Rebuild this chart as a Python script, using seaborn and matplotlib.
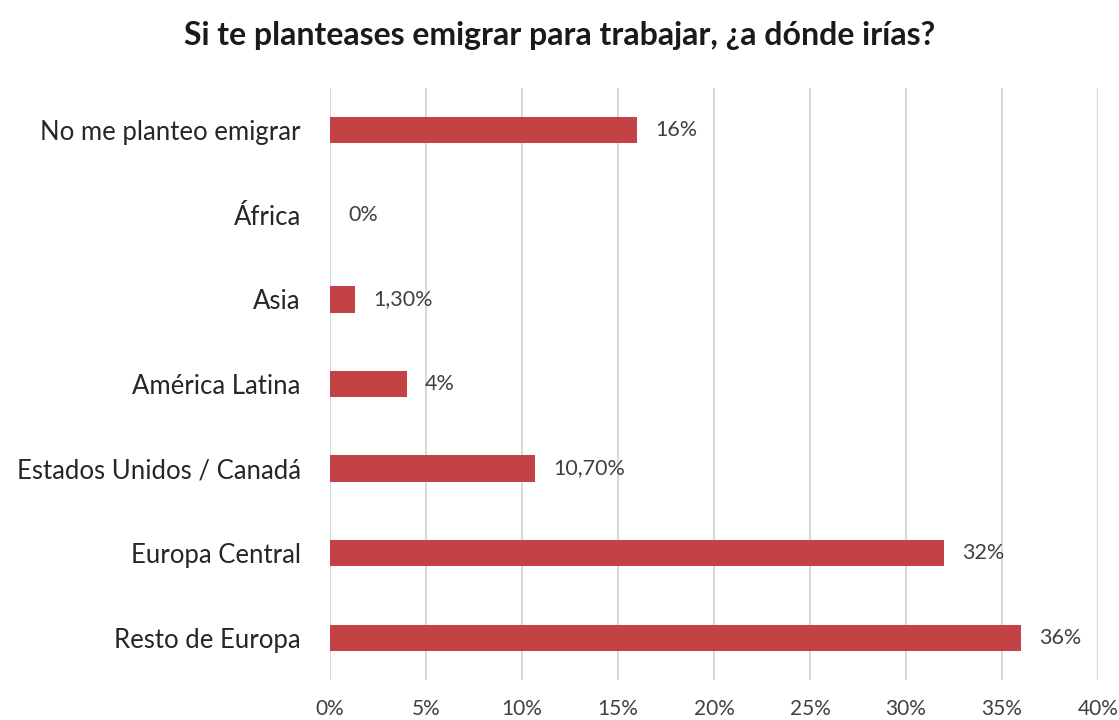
import matplotlib
matplotlib.use("Agg")
import matplotlib.pyplot as plt
import seaborn as sns
import pandas as pd

categories = ["No me planteo emigrar", "África", "Asia", "América Latina",
              "Estados Unidos / Canadá", "Europa Central", "Resto de Europa"]
values = [16, 0, 1.3, 4, 10.7, 32, 36]
value_labels = ["16%", "0%", "1,30%", "4%", "10,70%", "32%", "36%"]
xticks = [0, 5, 10, 15, 20, 25, 30, 35, 40]

df = pd.DataFrame({"destino": categories, "pct": values})

sns.set_style("white")
plt.rcParams["font.family"] = ["Lato", "DejaVu Sans"]

fig = plt.figure(figsize=(11.19, 7.2), dpi=100)
ax = fig.add_axes([0.2949, 0.0556, 0.6863, 0.8222])

sns.barplot(data=df, x="pct", y="destino", orient="h", color="#C24245",
            width=0.31, saturation=1, linewidth=0, ax=ax, zorder=3)

ax.set_xlim(0, 40)
ax.set_ylim(6.5, -0.5)
ax.set_xticks(xticks)
ax.set_xticklabels([f"{t}%" for t in xticks])
ax.grid(axis="x", color="#D9D9D9", linewidth=1.5, zorder=0)
ax.set_axisbelow(True)
for s in ax.spines.values():
    s.set_visible(False)
ax.tick_params(axis="x", length=0, pad=14, labelsize=15, labelcolor="#404040")
ax.tick_params(axis="y", length=0, pad=21, labelsize=18.5, labelcolor="#262626")
ax.set_xlabel("")
ax.set_ylabel("")

ax.bar_label(ax.containers[0], labels=value_labels, padding=13,
             fontsize=15.5, color="#404040")

fig.text(0.5, 0.95, "Si te planteases emigrar para trabajar, ¿a dónde irías?",
         ha="center", va="center", fontsize=23, fontweight="bold", color="#1a1a1a")

fig.savefig("out.png", dpi=100)
